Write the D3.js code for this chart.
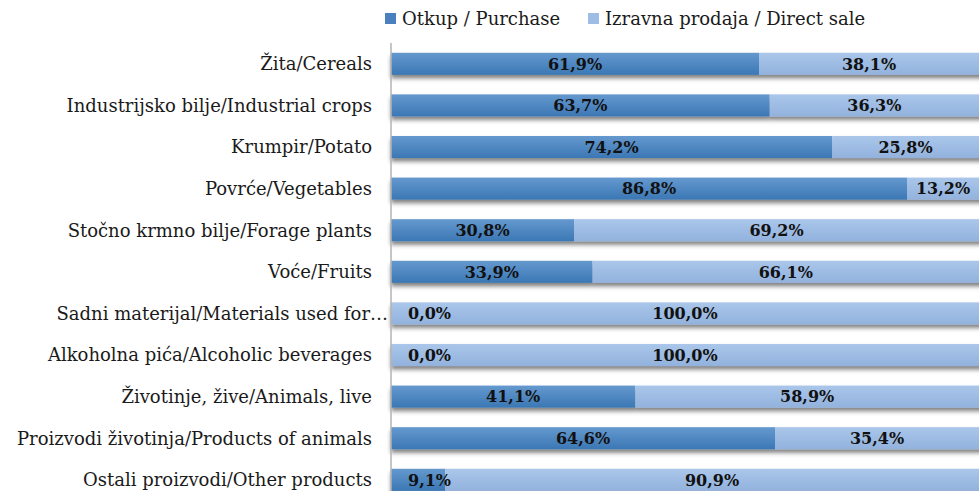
<!DOCTYPE html>
<html>
<head>
<meta charset="utf-8">
<script src="https://cdn.jsdelivr.net/npm/d3@7/dist/d3.min.js"></script>
<style>
  body { margin: 0; background: #fff; }
  svg { display: block; }
</style>
</head>
<body>
<div id="chart_div"></div>
<script>
// data
var categories = [
    'Žita/Cereals',
    'Industrijsko bilje/Industrial crops',
    'Krumpir/Potato',
    'Povrće/Vegetables',
    'Stočno krmno bilje/Forage plants',
    'Voće/Fruits',
    'Sadni materijal/Materials used for…',
    'Alkoholna pića/Alcoholic beverages',
    'Životinje, žive/Animals, live',
    'Proizvodi životinja/Products of animals',
    'Ostali proizvodi/Other products'
];
var purchase = [61.9, 63.7, 74.2, 86.8, 30.8, 33.9, 0.0, 0.0, 41.1, 64.6, 9.1];
var directSale = [38.1, 36.3, 25.8, 13.2, 69.2, 66.1, 100.0, 100.0, 58.9, 35.4, 90.9];
var seriesNames = ['Otkup / Purchase', 'Izravna prodaja / Direct sale'];

function chart() {
    var width = 979;
    var height = 491;
    var axis_x = 391;
    var label_font = '"DejaVu Serif", Cambria, serif';

    var svg = d3.select('#chart_div')
        .append('svg')
        .attr('width', width)
        .attr('height', height);

    var defs = svg.append('defs');

    // gradients for the two series
    var grads = [
        { id: 'grad_dark', top: '#6599cf', bottom: '#3b77b4' },
        { id: 'grad_light', top: '#aac6ea', bottom: '#92b2dd' }
    ];
    grads.forEach(function(g) {
        var lg = defs.append('linearGradient')
            .attr('id', g.id)
            .attr('x1', 0).attr('y1', 0)
            .attr('x2', 0).attr('y2', 1);
        lg.append('stop').attr('offset', '0%').attr('stop-color', g.top);
        lg.append('stop').attr('offset', '100%').attr('stop-color', g.bottom);
    });

    var shadow = defs.append('filter')
        .attr('id', 'bar_shadow')
        .attr('x', '-5%').attr('y', '-20%')
        .attr('width', '110%').attr('height', '170%');
    shadow.append('feDropShadow')
        .attr('dx', 0)
        .attr('dy', 3.5)
        .attr('stdDeviation', 2.2)
        .attr('flood-color', '#000')
        .attr('flood-opacity', 0.5);

    var x = d3.scaleLinear()
        .domain([0, 100])
        .range([axis_x, 985.5]);

    var y = d3.scaleBand()
        .domain(categories)
        .range([43, 500.6])
        .paddingInner(0.47)
        .paddingOuter(0.235);

    var rows = categories.map(function(c, i) {
        return { cat: c, a: purchase[i], b: directSale[i] };
    });

    // bars
    var bar_group = svg.append('g').attr('filter', 'url(#bar_shadow)');

    bar_group.selectAll('rect.dark')
        .data(rows)
        .enter()
        .append('rect')
        .attr('class', 'dark')
        .attr('x', x(0))
        .attr('y', function(d) { return y(d.cat); })
        .attr('width', function(d) { return x(d.a) - x(0); })
        .attr('height', y.bandwidth())
        .attr('fill', 'url(#grad_dark)');

    bar_group.selectAll('rect.light')
        .data(rows)
        .enter()
        .append('rect')
        .attr('class', 'light')
        .attr('x', function(d) { return x(d.a); })
        .attr('y', function(d) { return y(d.cat); })
        .attr('width', function(d) { return x(d.a + d.b) - x(d.a); })
        .attr('height', y.bandwidth())
        .attr('fill', 'url(#grad_light)');

    // vertical axis line
    svg.append('line')
        .attr('x1', axis_x).attr('x2', axis_x)
        .attr('y1', 43).attr('y2', height)
        .attr('stroke', '#b3b3b3')
        .attr('stroke-width', 1.5);

    // category labels
    svg.append('g')
        .selectAll('text')
        .data(categories)
        .enter()
        .append('text')
        .attr('x', function(d) { return d.slice(-1) === '…' ? 388 : 372; })
        .attr('y', function(d) { return y(d) + y.bandwidth() / 2; })
        .attr('dy', '0.36em')
        .attr('text-anchor', 'end')
        .style('font-family', label_font)
        .style('font-size', '18px')
        .style('fill', '#1a1a1a')
        .text(function(d) { return d; });

    // value labels
    function fmt(v) { return v.toFixed(1).replace('.', ',') + '%'; }

    var labels = [];
    rows.forEach(function(d) {
        labels.push({ cat: d.cat, v: d.a, x0: 0, x1: d.a });
        labels.push({ cat: d.cat, v: d.b, x0: d.a, x1: d.a + d.b });
    });

    svg.append('g')
        .selectAll('text')
        .data(labels)
        .enter()
        .append('text')
        .attr('x', function(d) {
            var w = x(d.x1) - x(d.x0);
            if (w < 60) return x(d.x0) + 17; // too narrow, text starts inside
            var right = Math.min(x(d.x1), width);
            return (x(d.x0) + right) / 2;
        })
        .attr('text-anchor', function(d) {
            return (x(d.x1) - x(d.x0)) < 60 ? 'start' : 'middle';
        })
        .attr('y', function(d) { return y(d.cat) + y.bandwidth() / 2; })
        .attr('dy', '0.36em')
        .style('font-family', label_font)
        .style('font-weight', 'bold')
        .style('font-size', '16px')
        .style('fill', '#111')
        .text(function(d) { return fmt(d.v); });

    // legend
    var legend = svg.append('g');
    var legend_items = [
        { name: seriesNames[0], x: 385, fill: '#4a80bd', tx: 402 },
        { name: seriesNames[1], x: 588, fill: '#9dbde5', tx: 605 }
    ];
    legend.selectAll('rect')
        .data(legend_items)
        .enter()
        .append('rect')
        .attr('x', function(d) { return d.x; })
        .attr('y', 13)
        .attr('width', 11)
        .attr('height', 11)
        .attr('fill', function(d) { return d.fill; });
    legend.selectAll('text')
        .data(legend_items)
        .enter()
        .append('text')
        .attr('x', function(d) { return d.tx; })
        .attr('y', 19)
        .attr('dy', '0.36em')
        .style('font-family', label_font)
        .style('font-size', '18px')
        .style('fill', '#1a1a1a')
        .text(function(d) { return d.name; });
}

chart();
</script>
</body>
</html>
